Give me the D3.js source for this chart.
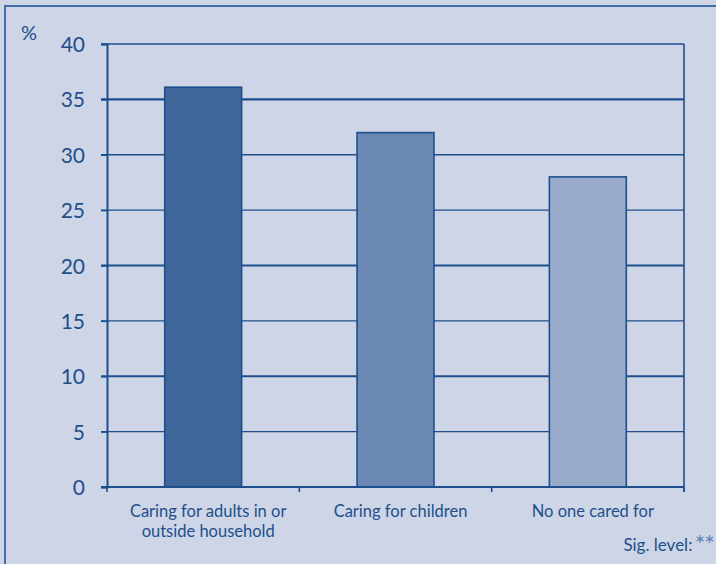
<!DOCTYPE html>
<html><head><meta charset="utf-8">
<script src="https://cdn.jsdelivr.net/npm/d3@7"></script>
<style>body{margin:0;background:#cdd5e6;} svg{display:block;}</style>
</head><body>
<script>
const categories = [["Caring for adults in or","outside household"],["Caring for children"],["No one cared for"]];
const values = [36.1, 32, 28];
const barColors = ["#3e6699", "#6c88b5", "#99aacb"];
const yTicks = [0,5,10,15,20,25,30,35,40];
const thickTicks = [35,20,10];

(function(){
const W = 716, H = 564;
const ink = "#1d4f8c";
const font = "Lato, 'Open Sans', sans-serif";
const svg = d3.select("body").append("svg").attr("width", W).attr("height", H);
svg.append("rect").attr("width", W).attr("height", H).attr("fill", "#cdd5e6");
// frame (top and left visible)
svg.append("rect").attr("x", 5).attr("y", 6).attr("width", W + 20).attr("height", H + 20)
  .attr("fill", "none").attr("stroke", "#3f6fa6").attr("stroke-width", 2);

const mLeft = 107, mRight = 684, mTop = 44, mBottom = 487;
const x = d3.scaleBand().domain(d3.range(categories.length)).range([mLeft, mRight]).paddingInner(0.6).paddingOuter(0.3);
const y = d3.scaleLinear().domain([0, 40]).range([mBottom, mTop]);

// gridlines
svg.append("g").selectAll("line").data(yTicks.filter(d => d > 0)).join("line")
  .attr("x1", mLeft - 6).attr("x2", mRight).attr("y1", d => y(d)).attr("y2", d => y(d))
  .attr("stroke", ink).attr("stroke-width", d => thickTicks.includes(d) ? 2.2 : 1.3);
// right border
svg.append("line").attr("x1", mRight).attr("x2", mRight).attr("y1", mTop).attr("y2", mBottom + 5)
  .attr("stroke", ink).attr("stroke-width", 1.6);

// bars
svg.append("g").selectAll("rect").data(values).join("rect")
  .attr("x", (d, i) => x(i)).attr("width", x.bandwidth())
  .attr("y", d => y(d)).attr("height", d => y(0) - y(d))
  .attr("fill", (d, i) => barColors[i]).attr("stroke", ink).attr("stroke-width", 1.6);

// y axis
const yAxis = d3.axisLeft(y).tickValues(yTicks).tickSize(6).tickPadding(16);
const gy = svg.append("g").attr("transform", `translate(${mLeft},0)`).call(yAxis);
gy.select(".domain").attr("stroke", ink).attr("stroke-width", 2);
gy.selectAll(".tick line").attr("stroke", ink).attr("stroke-width", 1.5);
gy.selectAll(".tick text").attr("fill", ink).style("font-family", font).style("font-size", "21px").attr("dy", "0.36em");

// x axis
svg.append("line").attr("x1", mLeft - 6).attr("x2", mRight).attr("y1", mBottom).attr("y2", mBottom)
  .attr("stroke", ink).attr("stroke-width", 2);
const step = x.step();
const bounds = d3.range(categories.length + 1).map(i => mLeft + i * step);
svg.append("g").selectAll("line").data(bounds).join("line")
  .attr("x1", d => d).attr("x2", d => d).attr("y1", mBottom).attr("y2", mBottom + 5)
  .attr("stroke", ink).attr("stroke-width", 1.6);

const lbl = svg.append("g").selectAll("text").data(categories).join("text")
  .attr("x", (d, i) => x(i) + x.bandwidth() / 2 + 5).attr("y", mBottom + 30)
  .attr("text-anchor", "middle").attr("fill", ink)
  .style("font-family", font).style("font-size", "16.5px");
lbl.each(function(d) {
  const t = d3.select(this);
  d.forEach((line, j) => t.append("tspan").attr("x", t.attr("x")).attr("dy", j === 0 ? 0 : 20).text(line));
});

svg.append("text").attr("x", 29).attr("y", 40).attr("text-anchor", "middle").attr("fill", ink)
  .style("font-family", font).style("font-size", "20px").text("%");

const sig = svg.append("text").attr("x", 714).attr("y", 551).attr("text-anchor", "end").attr("fill", ink)
  .style("font-family", font).style("font-size", "17px");
sig.append("tspan").text("Sig. level: ");
sig.append("tspan").attr("fill", "#5b82b8").attr("dy", 3).attr("dx", -2).attr("letter-spacing", "-1px").style("font-size", "25px").text("**");
})();
</script>
</body></html>
